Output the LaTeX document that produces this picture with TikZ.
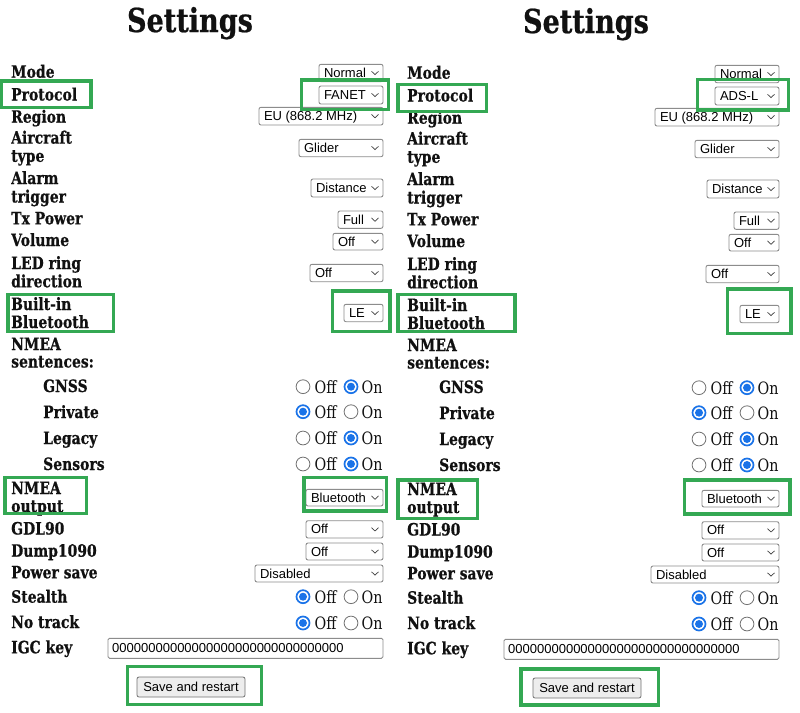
\documentclass[tikz,border=0pt]{standalone}
\usepackage{fontspec}
\newfontfamily\lblfont[FakeStretch=0.82, BoldFeatures={FakeBold=0.6}]{DejaVu Serif}
\newfontfamily\radfont[FakeStretch=0.84]{DejaVu Serif}
\newfontfamily\uifont{Liberation Sans}
\definecolor{boxgreen}{RGB}{52,168,83}
\definecolor{selgray}{RGB}{140,140,140}
\definecolor{radblue}{RGB}{26,115,232}
\definecolor{txt}{RGB}{17,17,17}
\tikzset{
 lbl/.style={font=\lblfont\bfseries\fontsize{17}{19}\selectfont, text=txt, inner sep=0pt, anchor=base west},
 ttl/.style={font=\lblfont\bfseries\fontsize{33}{36}\selectfont, text=txt, inner sep=0pt, anchor=base},
 selbox/.style={draw=selgray, line width=0.9pt, rounded corners=2pt, fill=white, inner sep=0pt, outer sep=0pt, anchor=north west},
 seltxt/.style={font=\uifont\fontsize{13}{15}\selectfont, text=black, inner sep=0pt, anchor=base west},
 chev/.style={draw=black!75, line width=0.7pt},
 radtxt/.style={font=\radfont\fontsize{17}{19}\selectfont, text=txt, inner sep=0pt, anchor=base west},
 radoff/.style={circle, draw=black!55, line width=0.8pt, minimum size=13.8pt, inner sep=0pt, fill=white},
 radon/.style={circle, draw=radblue, line width=1.7pt, minimum size=13pt, inner sep=0pt, fill=white},
 raddot/.style={circle, fill=radblue, minimum size=8pt, inner sep=0pt},
 hl/.style={draw=boxgreen, line width=3.2pt, inner sep=0pt, outer sep=0pt, anchor=north west},
 btnbox/.style={draw=black!55, fill=black!7, line width=0.8pt, rounded corners=2pt, inner sep=0pt, outer sep=0pt, anchor=north west},
}
% select box: name, x1, y1, x2, y2, text
\newcommand\mysel[6]{%
 \node[selbox, minimum width={#4-#2}, minimum height={#5-#3}] (#1) at (#2,#3) {};
 \node[seltxt] (#1-t) at ([xshift=4.8pt,yshift=-4.6pt]#1.west) {#6};
 \draw[chev] ([xshift=-11.5pt,yshift=1.7pt]#1.east) -- ([xshift=-8pt,yshift=-1.6pt]#1.east) -- ([xshift=-4.5pt,yshift=1.7pt]#1.east);
}
% radio pair: name, y, checked (1 = Off, 2 = On)
\newcommand\myradio[3]{%
 \ifnum#3=1
  \node[radon] (#1-a) at (303,#2) {};
  \node[raddot] (#1-ad) at (#1-a) {};
  \node[radoff] (#1-b) at (351,#2) {};
 \else
  \node[radoff] (#1-a) at (303,#2) {};
  \node[radon] (#1-b) at (351,#2) {};
  \node[raddot] (#1-bd) at (#1-b) {};
 \fi
 \node[radtxt] (#1-off) at (314.5,{#2+6.8}) {Off};
 \node[radtxt] (#1-on) at (361.5,{#2+6.8}) {On};
}
% highlight box: name, x1, y1, x2, y2 (line centres)
\newcommand\myhl[5]{%
 \node[hl, minimum width={#4-#2}, minimum height={#5-#3}] (#1) at (#2,#3) {};
}
\newcommand\mypanel[2]{%
 \node[ttl] (#1-title) at (190,32) {Settings};
 \node[lbl] (#1-l1) at (11,77.7) {Mode};
 \node[lbl] (#1-l2) at (11,100.5) {Protocol};
 \node[lbl] (#1-l3) at (11,122.7) {Region};
 \node[lbl] (#1-l4a) at (11,143.6) {Aircraft};
 \node[lbl] (#1-l4b) at (11,161.8) {type};
 \node[lbl] (#1-l5a) at (11,184) {Alarm};
 \node[lbl] (#1-l5b) at (11,202.5) {trigger};
 \node[lbl] (#1-l6) at (11,224.3) {Tx Power};
 \node[lbl] (#1-l7) at (11,246) {Volume};
 \node[lbl] (#1-l8a) at (11,269) {LED ring};
 \node[lbl] (#1-l8b) at (11,287.3) {direction};
 \node[lbl] (#1-l9a) at (11,310) {Built-in};
 \node[lbl] (#1-l9b) at (11,328) {Bluetooth};
 \node[lbl] (#1-l10a) at (11,350) {NMEA};
 \node[lbl] (#1-l10b) at (11,367.5) {sentences:};
 \node[lbl] (#1-l11) at (43,392) {GNSS};
 \node[lbl] (#1-l12) at (43,418) {Private};
 \node[lbl] (#1-l13) at (43,444) {Legacy};
 \node[lbl] (#1-l14) at (43,470) {Sensors};
 \node[lbl] (#1-l15a) at (11,494) {NMEA};
 \node[lbl] (#1-l15b) at (11,512) {output};
 \node[lbl] (#1-l16) at (11,534.5) {GDL90};
 \node[lbl] (#1-l17) at (11,556.7) {Dump1090};
 \node[lbl] (#1-l18) at (11,578.3) {Power save};
 \node[lbl] (#1-l19) at (11,602.7) {Stealth};
 \node[lbl] (#1-l20) at (11,628) {No track};
 \node[lbl] (#1-l21) at (11,653.3) {IGC key};
 \mysel{#1-s1}{319}{64.3}{383}{81.7}{Normal}
 \mysel{#1-s2}{319}{86}{383}{104}{#2}
 \mysel{#1-s3}{259}{107.3}{383}{125}{EU (868.2 MHz)}
 \mysel{#1-s4}{299}{139.3}{383}{156.7}{Glider}
 \mysel{#1-s5}{311}{179}{383}{197}{Distance}
 \mysel{#1-s6}{338}{211}{383}{228.3}{Full}
 \mysel{#1-s7}{333}{233.3}{383}{250}{Off}
 \mysel{#1-s8}{310}{264.3}{383}{281.7}{Off}
 \mysel{#1-s9}{344}{304.3}{383}{321.7}{LE}
 \myradio{#1-r1}{386.7}{2}
 \myradio{#1-r2}{411.7}{1}
 \myradio{#1-r3}{438}{2}
 \myradio{#1-r4}{464}{2}
 \mysel{#1-s10}{306}{489.3}{383}{506}{Bluetooth}
 \mysel{#1-s11}{306}{520.7}{383}{538}{Off}
 \mysel{#1-s12}{306}{543}{383}{560}{Off}
 \mysel{#1-s13}{255}{565}{383}{582}{Disabled}
 \myradio{#1-r5}{596.7}{1}
 \myradio{#1-r6}{623}{1}
 \node[selbox, rounded corners=1.5pt, minimum width=275pt, minimum height=20pt] (#1-igc) at (108,638.3) {};
 \node[seltxt] (#1-igct) at ([xshift=4pt,yshift=-4.6pt]#1-igc.west) {00000000000000000000000000000000};
 \node[btnbox, minimum width=108pt, minimum height=20pt] (#1-btn) at (137,677) {};
 \node[seltxt, anchor=center] (#1-btnt) at (#1-btn.center) {Save and restart};
}
\begin{document}
\begin{tikzpicture}[x=1pt,y=-1pt]
\useasboundingbox (0,0) rectangle (800,712);
\fill[white] (0,0) rectangle (800,712);
\begin{scope}
 \mypanel{A}{FANET}
\end{scope}
\begin{scope}[xshift=396pt,yshift=-1pt]
 \mypanel{B}{ADS-L}
\end{scope}
% highlights, left page
\myhl{gA1}{1.7}{81}{91}{107.7}
\myhl{gA2}{301.7}{80}{388.3}{109.3}
\myhl{gA3}{8}{294.3}{113.3}{331.7}
\myhl{gA4}{332.3}{291}{390}{331.7}
\myhl{gA5}{5}{477.7}{86.7}{513.3}
\myhl{gA6}{304}{477.7}{386.7}{511}
\myhl{gA7}{127.3}{666.7}{261.7}{704.3}
% highlights, right page
\myhl{gB1}{398}{84.3}{486.7}{111.7}
\myhl{gB2}{697.7}{79.3}{788.3}{110}
\myhl{gB3}{398}{294.3}{515}{331.7}
\myhl{gB4}{727.7}{289}{791}{333.3}
\myhl{gB5}{398}{480}{477.7}{518.3}
\myhl{gB6}{684.3}{480}{790}{514}
\myhl{gB7}{521}{669}{658.3}{705}
\end{tikzpicture}
\end{document}
